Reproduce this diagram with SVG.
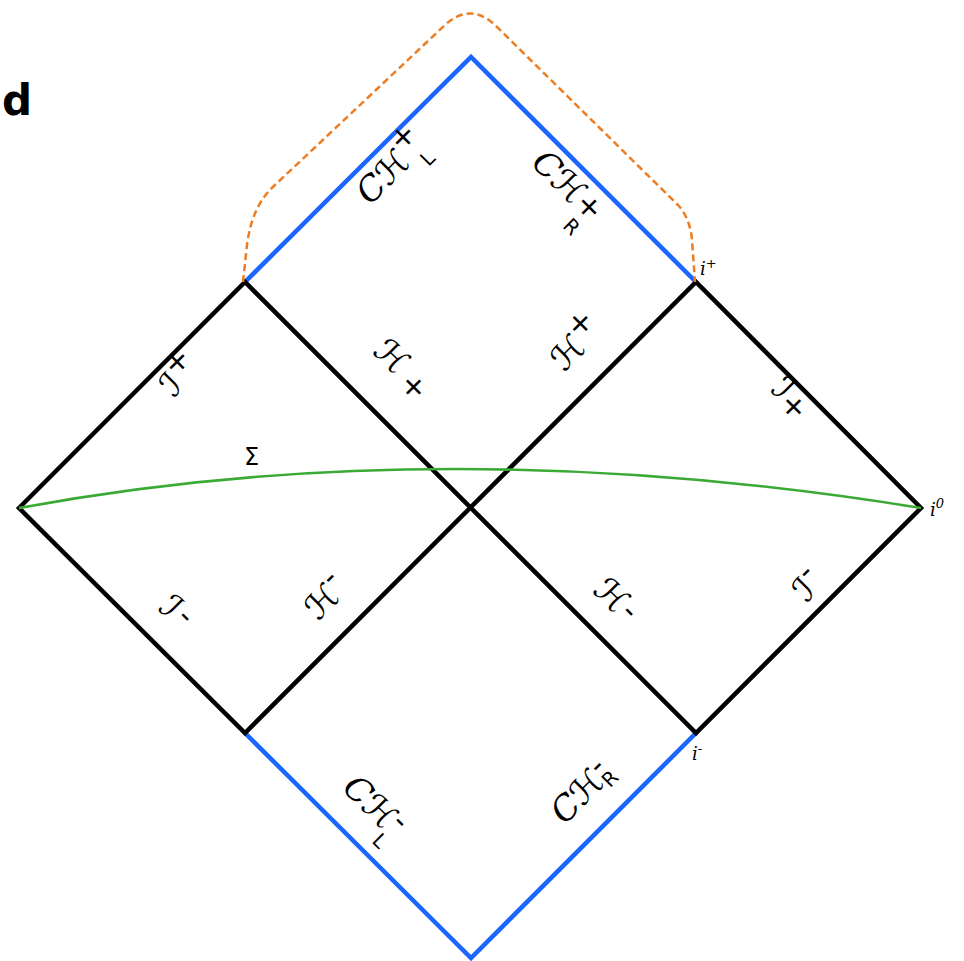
<svg xmlns="http://www.w3.org/2000/svg" width="964" height="961" viewBox="0 0 964 961">
<style>
.blk{stroke:#000;stroke-width:4.5;fill:none;stroke-linecap:round}
.blu{stroke:#1a66ff;stroke-width:4.5;fill:none;stroke-linecap:round}
.lab{font-family:"DejaVu Serif","DejaVu Sans",serif;font-style:italic;font-size:34px;fill:#000;text-anchor:middle}
.sup{font-family:"DejaVu Sans",sans-serif;font-style:normal;font-size:30px}
.sub{font-family:"DejaVu Sans",sans-serif;font-style:normal;font-size:20px}
.pt{font-family:"DejaVu Serif",serif;font-style:italic;font-size:18px;fill:#000}
</style>
<rect width="964" height="961" fill="#fff"/>
<g id="connectors">
<path class="blu" d="M245,282 L471,57 L696,282"/>
<path class="blu" d="M245,733 L471,958 L696,733"/>
<path class="blk" d="M19,508 L245,282 L696,733 L921,508 L696,282 L245,733 Z"/>
<path d="M19,508 Q440,430 921,508" fill="none" stroke="#3aaa35" stroke-width="2.6"/>
<path d="M243,282 L247,245 Q252,205 275,185 L445,25 Q470,2 495,25 L678,205 Q690,218 692,240 L695,282" fill="none" stroke="#ee7d22" stroke-width="2.5" stroke-dasharray="7,4"/>
</g>
<text x="2" y="115" font-family="DejaVu Sans,sans-serif" font-weight="bold" font-size="42">d</text>
<g id="CHLplus" transform="translate(400,176) rotate(-45)"><text class="lab">Cℋ<tspan class="sup" dy="-16">+</tspan><tspan class="sub" dx="-16" dy="30">L</tspan></text></g>
<g id="CHRplus" transform="translate(560,194) rotate(45)"><text class="lab">Cℋ<tspan class="sup" dy="-2">+</tspan><tspan class="sub" dx="-18" dy="24">R</tspan></text></g>
<g id="iplus"><text class="pt" x="700" y="275">i<tspan font-size="13" dy="-7">+</tspan></text></g>
<g id="Iplus_left" transform="translate(188,384) rotate(-45)"><text class="lab">ℐ<tspan class="sup" dy="-14">+</tspan></text></g>
<g id="Hplus_left" transform="translate(395,376) rotate(45)"><text class="lab">ℋ<tspan class="sup" dx="8" dy="4">+</tspan></text></g>
<g id="Hplus_right" transform="translate(585,352) rotate(-45)"><text class="lab">ℋ<tspan class="sup" dy="-14">+</tspan></text></g>
<g id="Iplus_right" transform="translate(784,405) rotate(45)"><text class="lab">ℐ<tspan class="sup" dy="4">+</tspan></text></g>
<g id="Sigma"><text x="244" y="465" font-family="DejaVu Sans,sans-serif" font-size="24">Σ</text></g>
<g id="i0"><text class="pt" x="930" y="516">i<tspan font-size="13" dy="-8">0</tspan></text></g>
<g id="Iminus_left" transform="translate(168,620) rotate(45)"><text class="lab">ℐ<tspan class="sup" dx="4" dy="-6">-</tspan></text></g>
<g id="Hminus_left" transform="translate(334,606) rotate(-45)"><text class="lab">ℋ<tspan class="sup" dy="-14">-</tspan></text></g>
<g id="Hminus_right" transform="translate(608,608) rotate(45)"><text class="lab">ℋ<tspan class="sup" dx="2" dy="-4">-</tspan></text></g>
<g id="Iminus_right" transform="translate(816,594) rotate(-45)"><text class="lab">ℐ<tspan class="sup" dy="-14">-</tspan></text></g>
<g id="iminus"><text class="pt" x="692" y="760">i<tspan font-size="13" dy="-7">-</tspan></text></g>
<g id="CHLminus" transform="translate(366,814) rotate(45)"><text class="lab">Cℋ<tspan class="sup" dy="-10">-</tspan><tspan class="sub" dx="-12" dy="26">L</tspan></text></g>
<g id="CHRminus" transform="translate(590,800) rotate(-45)"><text class="lab">Cℋ<tspan class="sup" dy="-10">-</tspan><tspan class="sub" dx="-12" dy="16">R</tspan></text></g>
</svg>
